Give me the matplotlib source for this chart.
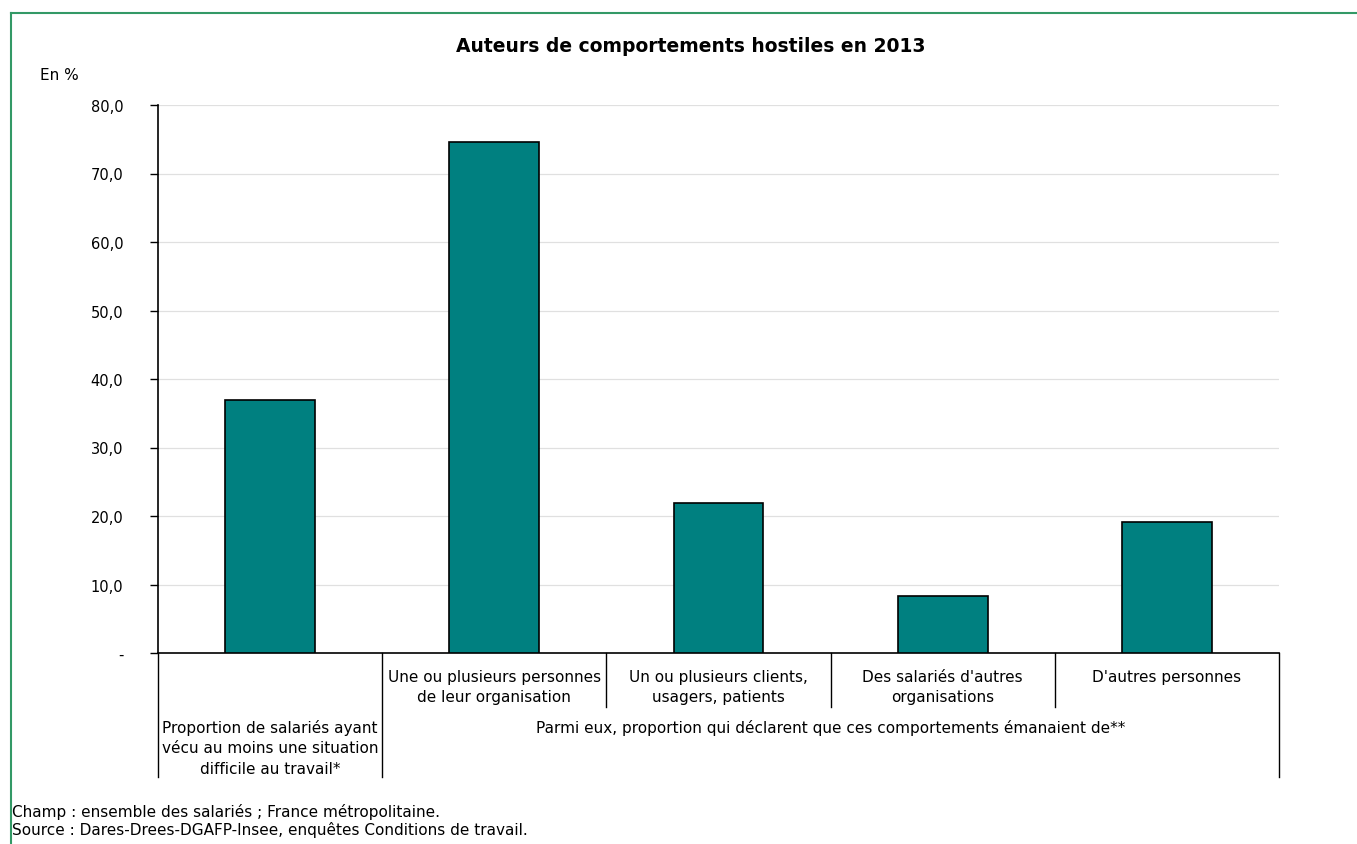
import matplotlib
matplotlib.use("Agg")
import matplotlib.pyplot as plt
from matplotlib.lines import Line2D
import matplotlib.transforms as mtransforms

# data
categories = [
    "Proportion de salariés ayant\nvécu au moins une situation\ndifficile au travail*",
    "Une ou plusieurs personnes\nde leur organisation",
    "Un ou plusieurs clients,\nusagers, patients",
    "Des salariés d'autres\norganisations",
    "D'autres personnes",
]
values = [36.9, 74.6, 21.9, 8.3, 19.1]
yticks = [0, 10, 20, 30, 40, 50, 60, 70, 80]
ytick_labels = ["-", "10,0", "20,0", "30,0", "40,0", "50,0", "60,0", "70,0", "80,0"]
group_label = "Parmi eux, proportion qui déclarent que ces comportements émanaient de**"

plt.rcParams['font.family'] = ['DejaVu Sans']

W, H = 1357, 845
fig = plt.figure(figsize=(W / 100, H / 100), dpi=100)
fig.patch.set_facecolor("white")

# plot area in pixel terms
left, right, y0, y80 = 158, 1279, 654, 106
ax = fig.add_axes([left / W, 1 - y0 / H, (right - left) / W, (y0 - y80) / H])

x = list(range(len(values)))
ax.bar(x, values, width=0.4, color="#008080", edgecolor="black", linewidth=1.2, zorder=3)

ax.set_xlim(-0.5, len(values) - 0.5)
ax.set_ylim(0, 80)
ax.set_yticks(yticks)
ax.set_yticklabels(ytick_labels, fontsize=10.5)
ax.set_xticks([])
ax.grid(axis="y", color="#e0e0e0", linewidth=0.9, zorder=0)
ax.tick_params(axis="y", length=6, width=1, pad=19, colors="black")
for s in ["top", "right"]:
    ax.spines[s].set_visible(False)
ax.spines["left"].set_linewidth(1.2)
ax.spines["bottom"].set_linewidth(1.2)

# category separators below the axis
trans = mtransforms.blended_transform_factory(ax.transData, ax.transAxes)
axh = y0 - y80
short_y = -(708 - y0) / axh
long_y = -(778 - y0) / axh
for xs in [-0.5, 0.5, 4.5]:
    ax.add_line(Line2D([xs, xs], [0, long_y], transform=trans, color="black",
                       linewidth=1, clip_on=False))
for xs in [1.5, 2.5, 3.5]:
    ax.add_line(Line2D([xs, xs], [0, short_y], transform=trans, color="black",
                       linewidth=1, clip_on=False))

row1_y = -(670 - y0) / axh
row2_y = -(720 - y0) / axh
ax.text(0, row2_y, categories[0], transform=trans, ha="center", va="top",
        fontsize=11, linespacing=1.45, clip_on=False)
for i in range(1, len(categories)):
    ax.text(i, row1_y, categories[i], transform=trans, ha="center", va="top",
            fontsize=11, linespacing=1.4, clip_on=False)
ax.text(2.5, row2_y, group_label, transform=trans, ha="center", va="top",
        fontsize=11, clip_on=False)

# titles and notes
fig.text(691 / W, 1 - 46 / H, "Auteurs de comportements hostiles en 2013",
         ha="center", va="center", fontsize=13.5, fontweight="bold")
fig.text(40 / W, 1 - 75 / H, "En %", ha="left", va="center", fontsize=11)
fig.text(12 / W, 1 - 812 / H, "Champ : ensemble des salariés ; France métropolitaine.",
         ha="left", va="center", fontsize=11)
fig.text(12 / W, 1 - 830 / H, "Source : Dares-Drees-DGAFP-Insee, enquêtes Conditions de travail.",
         ha="left", va="center", fontsize=11)

# green frame
fig.add_artist(Line2D([11 / W, 1], [1 - 14 / H, 1 - 14 / H], color="#339966", linewidth=1.5))
fig.add_artist(Line2D([11 / W, 11 / W], [0, 1 - 14 / H], color="#339966", linewidth=1.5))

fig.savefig("out.png", dpi=100)
